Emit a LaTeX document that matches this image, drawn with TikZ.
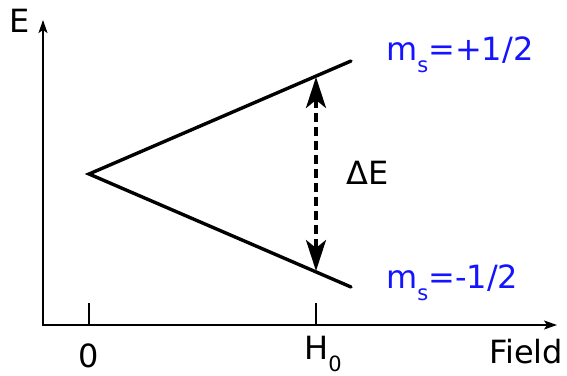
\documentclass[tikz,border=0pt]{standalone}
\usepackage{fontspec}
\setmainfont{DejaVu Sans}
\usetikzlibrary{arrows.meta}
\definecolor{lblue}{RGB}{20,20,255}
\newcommand{\lowsub}[1]{\raisebox{-0.38em}{\fontsize{21}{21}\selectfont #1}}
\begin{document}
\begin{tikzpicture}[x=1pt,y=-1pt,
  axis/.style={line width=1.8pt,-{Stealth[length=13pt,width=9pt,inset=3pt]}},
  level/.style={line width=3.4pt,line cap=round},
  gaphead/.style={Stealth[length=31pt,width=20pt,inset=8pt]},
  gap/.style={line width=3.5pt,dash pattern=on 9pt off 5pt,{Stealth[length=31pt,width=20pt,inset=8pt]}-{Stealth[length=31pt,width=20pt,inset=8pt]}},
  tick/.style={line width=1.8pt},
  lbl/.style={font=\fontsize{32}{35}\selectfont, inner sep=0pt},
  slbl/.style={lbl,text=lblue}]
\useasboundingbox (0,0) rectangle (567,375);
\coordinate (O) at (43,325);
\coordinate (ytip) at (43,20);
\coordinate (xtip) at (557,325);
\draw[axis] (O) -- (ytip);
\draw[axis] ([xshift=-1pt]O) -- (xtip);
\coordinate (v) at (89,174);
\coordinate (up) at (351,61);
\coordinate (dn) at (351,287);
\draw[level] (up) -- (v) -- (dn);
\coordinate (t0) at (89,303);
\coordinate (b0) at (89,325);
\coordinate (t1) at (316,303);
\coordinate (b1) at (316,325);
\draw[tick] (t0) -- (b0);
\draw[tick] (t1) -- (b1);
\coordinate (a1) at (316,77);
\coordinate (a2) at (316,271);
\draw[gap] (a1) -- (a2);
\node[lbl] (E) at (20,21) {E};
\node[lbl] (F) at (526,352) {Field};
\node[lbl] (zero) at (89,356) {0};
\node[lbl,anchor=west] (H) at (304,354) {H\lowsub{0}};
\node[lbl] (dE) at (368,173) {ΔE};
\node[slbl,anchor=west] (up1) at (386,55) {m\lowsub{s}=+1/2};
\node[slbl,anchor=west] (dn1) at (386,283) {m\lowsub{s}=-1/2};
\end{tikzpicture}
\end{document}
